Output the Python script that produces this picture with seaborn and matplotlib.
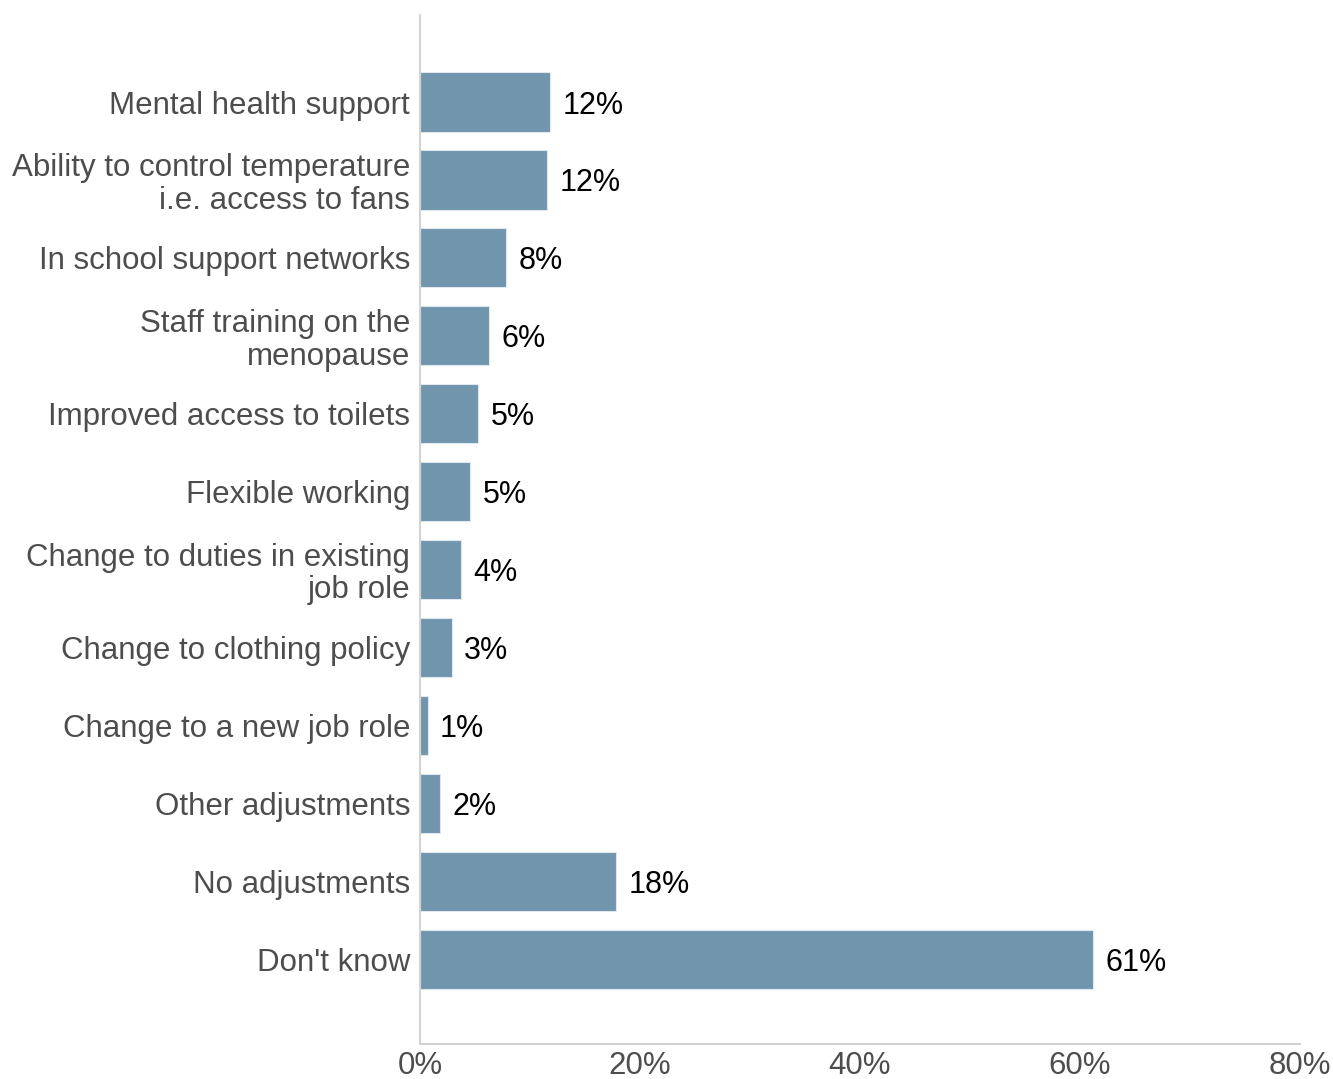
import matplotlib
matplotlib.use("Agg")
import matplotlib.pyplot as plt
import seaborn as sns
import pandas as pd
from matplotlib.ticker import FuncFormatter

categories = [
    "Mental health support",
    "Ability to control temperature\ni.e. access to fans",
    "In school support networks",
    "Staff training on the\nmenopause",
    "Improved access to toilets",
    "Flexible working",
    "Change to duties in existing\njob role",
    "Change to clothing policy",
    "Change to a new job role",
    "Other adjustments",
    "No adjustments",
    "Don't know",
]
values = [11.8, 11.6, 7.8, 6.3, 5.3, 4.6, 3.75, 2.9, 0.7, 1.8, 17.8, 61.2]
x_ticks = [0, 20, 40, 60, 80]

df = pd.DataFrame({"category": categories, "value": values})

sns.set_theme(style="white")
plt.rcParams["font.family"] = ["Liberation Sans", "DejaVu Sans"]

fig = plt.figure(figsize=(13.33, 10.79), dpi=100)
ax = fig.add_axes([0.315, 0.0324, 0.66, 0.9537])

sns.barplot(data=df, x="value", y="category", orient="h", color="#7195ad",
            saturation=1, width=0.76, edgecolor="#dfe7ee", linewidth=0.8, ax=ax)

for i, v in enumerate(values):
    ax.annotate(f"{v:.0f}%", xy=(v, i), xytext=(9, 0), textcoords="offset points",
                ha="left", va="center_baseline", fontsize=22, color="black")

ax.set_xlim(0, 80)
ax.set_ylim(12.09, -1.117)
ax.set_xticks(x_ticks)
ax.xaxis.set_major_formatter(FuncFormatter(lambda x, p: f"{x:.0f}%"))
ax.set_xlabel("")
ax.set_ylabel("")

for s in ["top", "right"]:
    ax.spines[s].set_visible(False)
for s in ["left", "bottom"]:
    ax.spines[s].set_color("#d3d3d3")
    ax.spines[s].set_linewidth(1.5)

ax.tick_params(axis="both", which="both", length=4, width=1.2, color="#d3d3d3",
               labelcolor="#4d4d4d", labelsize=22.5, pad=3)
ax.tick_params(axis="x", pad=1)
for lab in ax.get_yticklabels():
    lab.set_linespacing(1.1)

fig.savefig("out.png", dpi=100, facecolor="white")
